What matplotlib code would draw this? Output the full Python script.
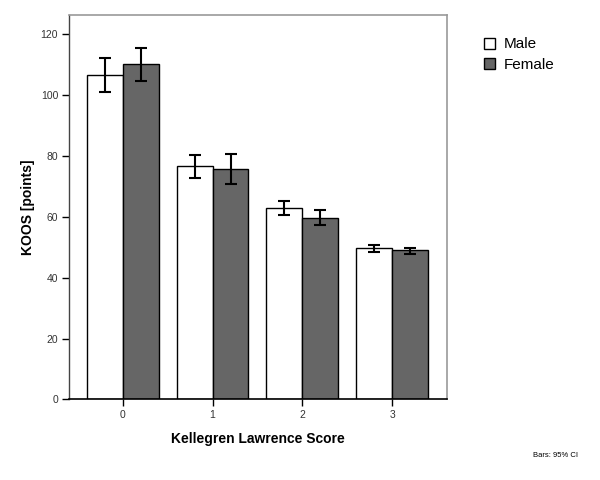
import matplotlib
matplotlib.use("Agg")
import matplotlib.pyplot as plt
import numpy as np
from matplotlib.patches import Patch

plt.rcParams['font.family'] = ['Liberation Sans', 'DejaVu Sans']

categories = ["0", "1", "2", "3"]
male_mean = [106.6, 76.6, 62.8, 49.8]
male_low = [101.1, 72.9, 60.5, 48.5]
male_high = [112.1, 80.2, 65.3, 50.9]
female_mean = [110.4, 75.6, 59.7, 49.0]
female_low = [104.8, 70.7, 57.4, 47.9]
female_high = [115.6, 80.6, 62.1, 49.9]

fig = plt.figure(figsize=(6, 4.8), dpi=100)
ax = fig.add_axes([0.1155, 0.168, 0.745 - 0.1155, 0.969 - 0.168])

x = np.arange(len(categories))
w = 0.4
m = np.array(male_mean); f = np.array(female_mean)
m_err = [m - np.array(male_low), np.array(male_high) - m]
f_err = [f - np.array(female_low), np.array(female_high) - f]

ax.bar(x - w / 2, m, w, color='white', edgecolor='black', linewidth=1.0, label='Male', zorder=2)
ax.bar(x + w / 2, f, w, color='#666666', edgecolor='black', linewidth=1.0, label='Female', zorder=2)
ax.errorbar(x - w / 2, m, yerr=m_err, fmt='none', ecolor='black', elinewidth=1.5, capsize=4.5, capthick=1.5, zorder=3)
ax.errorbar(x + w / 2, f, yerr=f_err, fmt='none', ecolor='black', elinewidth=1.5, capsize=4.5, capthick=1.5, zorder=3)

ax.set_xlim(-0.593, 3.608)
ax.set_ylim(0, 126.4)
ax.set_xticks(x)
ax.set_xticklabels(categories)
ax.set_yticks([0, 20, 40, 60, 80, 100, 120])
ax.tick_params(axis='both', labelsize=7.5, length=5, width=1, colors='black', labelcolor='#333333', pad=3)

for s in ['top', 'right']:
    ax.spines[s].set_color('#999999')
    ax.spines[s].set_linewidth(1.2)
ax.spines['left'].set_color('#444444')
ax.spines['bottom'].set_color('black')
ax.spines['left'].set_linewidth(1.0)
ax.spines['bottom'].set_linewidth(1.2)

ax.set_xlabel('Kellegren Lawrence Score', fontsize=10, fontweight='bold', labelpad=8)
ax.set_ylabel('KOOS [points]', fontsize=10, fontweight='bold', labelpad=4)

handles = [Patch(facecolor='white', edgecolor='black', linewidth=1.0, label='Male'),
           Patch(facecolor='#666666', edgecolor='black', linewidth=1.0, label='Female')]
fig.legend(handles=handles, loc='upper left', bbox_to_anchor=(0.806, 0.922), frameon=False,
           fontsize=11, handlelength=0.75, handleheight=0.75, handletextpad=0.55, labelspacing=0.4,
           borderaxespad=0, borderpad=0)

fig.text(0.888, 0.047, 'Bars: 95% CI', fontsize=5.5, color='black')

fig.savefig('out.png', dpi=100)
